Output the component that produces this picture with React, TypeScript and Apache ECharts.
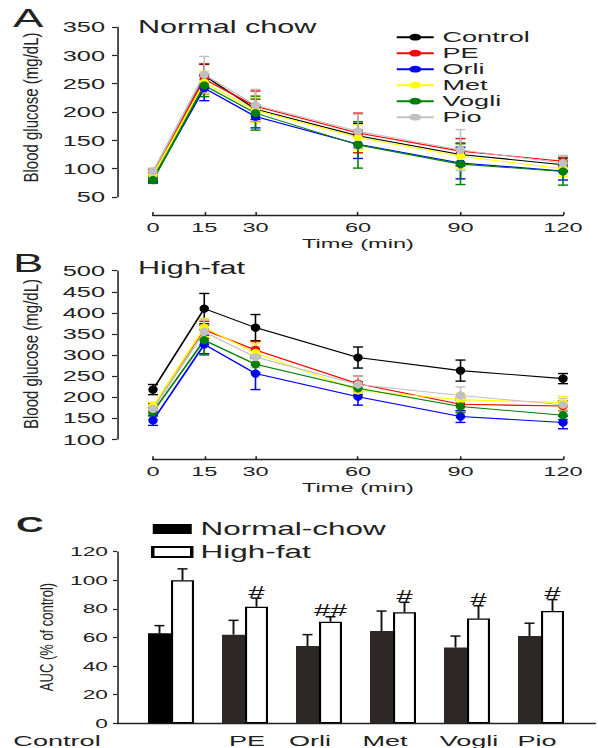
import React, { useEffect, useRef } from 'react';
import * as echarts from 'echarts';

// ---------- data ----------
const timePoints = [0, 15, 30, 60, 90, 120];
const groupNames = ['Control', 'PE', 'Orli', 'Met', 'Vogli', 'Pio'];
const groupColors = ['#000000', '#ff0000', '#0000ff', '#ffff00', '#008000', '#c0c0c0'];

// Normal chow OGTT (mg/dL), rows follow groupNames
const normalChowMean = [
  [86, 264, 205, 158, 125, 107],
  [93, 258, 210, 163, 131, 113],
  [82, 242, 192, 143, 110, 96],
  [88, 252, 203, 155, 122, 100],
  [80, 247, 198, 142, 108, 95],
  [95, 266, 212, 166, 133, 110],
];
const normalChowErr = [
  [8, 20, 18, 22, 20, 12],
  [6, 27, 27, 35, 22, 10],
  [6, 22, 20, 25, 28, 16],
  [6, 20, 22, 22, 22, 14],
  [6, 20, 30, 41, 36, 24],
  [6, 32, 28, 30, 36, 13],
];

// High-fat OGTT (mg/dL)
const highFatMean = [
  [218, 410, 365, 294, 263, 244],
  [175, 360, 312, 232, 183, 179],
  [145, 325, 256, 201, 154, 140],
  [178, 365, 305, 216, 194, 187],
  [165, 335, 278, 221, 178, 157],
  [172, 355, 295, 230, 204, 182],
];
const highFatErr = [
  [12, 36, 31, 25, 25, 12],
  [10, 20, 20, 18, 15, 12],
  [12, 22, 38, 20, 14, 15],
  [10, 22, 22, 15, 15, 15],
  [10, 35, 20, 15, 15, 10],
  [10, 30, 25, 20, 20, 15],
];

// AUC (% of control)
const aucCategories = ['Control', 'PE', 'Orli', 'Met', 'Vogli', 'Pio'];
const aucNormalChow = [63, 62, 54, 64.5, 53, 61];
const aucNormalChowErr = [5.3, 10, 8, 14, 8, 9];
const aucHighFat = [100, 81.5, 71, 77.6, 73.2, 78.5];
const aucHighFatErr = [8, 6, 3.5, 7, 9, 8];
const aucMarks = ['', '#', '##', '#', '#', '#'];

// ---------- layout helpers ----------
const CW = 342; // internal chart width, stretched horizontally to 598
const S = 598 / CW;
const X = (px: number) => px / S;
const FONT = '"Liberation Sans", Arial, Helvetica, sans-serif';
const INK = '#222222';
// horizontal shift (screen px) of AUC category labels
const aucLabelShift = [-114, 2, -9, -8, 2, -4];

const lineSeries = (grid: number, means: number[][]) =>
  groupNames.map((g, gi) => ({
    type: 'line',
    name: g,
    xAxisIndex: grid,
    yAxisIndex: grid,
    data: timePoints.map((t, i) => [t, means[gi][i]]),
    symbol: 'circle',
    symbolSize: [5.4, 8.3],
    lineStyle: { width: 1.1, color: groupColors[gi] },
    itemStyle: { color: groupColors[gi] },
    clip: false,
    z: 3,
  }));

const errSeries = (grid: number, means: number[][], errs: number[][], name: string) => {
  const rows: number[][] = [];
  groupNames.forEach((_, gi) =>
    timePoints.forEach((t, i) => rows.push([t, means[gi][i], errs[gi][i], gi]))
  );
  return {
    type: 'custom',
    name,
    xAxisIndex: grid,
    yAxisIndex: grid,
    data: rows,
    encode: { x: 0, y: 1 },
    clip: false,
    z: 2,
    renderItem: (_p: any, api: any) => {
      const x = api.value(0);
      const m = api.value(1);
      const e = api.value(2);
      const g = api.value(3);
      const p1 = api.coord([x, m + e]);
      const p2 = api.coord([x, m - e]);
      const c = groupColors[g];
      const hw = X(5);
      return {
        type: 'group',
        children: [
          { type: 'line', shape: { x1: p1[0], y1: p1[1], x2: p2[0], y2: p2[1] }, style: { stroke: c, lineWidth: 0.9 } },
          { type: 'line', shape: { x1: p1[0] - hw, y1: p1[1], x2: p1[0] + hw, y2: p1[1] }, style: { stroke: c, lineWidth: 1.4 } },
          { type: 'line', shape: { x1: p2[0] - hw, y1: p2[1], x2: p2[0] + hw, y2: p2[1] }, style: { stroke: c, lineWidth: 1.4 } },
        ],
      };
    },
  };
};

const timeXAxis = (grid: number, offset: number) => ({
  gridIndex: grid,
  type: 'value',
  min: 0,
  max: 120,
  offset,
  axisLine: { show: true, onZero: false, lineStyle: { color: INK, width: 1.3 } },
  axisTick: { show: true, inside: true, length: 3, customValues: timePoints, lineStyle: { color: INK, width: 0.9 } },
  axisLabel: { customValues: timePoints, margin: 5, fontSize: 13.5, color: INK, fontFamily: FONT },
  splitLine: { show: false },
  name: 'Time (min)',
  nameLocation: 'middle',
  nameGap: 21,
  nameTextStyle: { fontSize: 13.5, color: INK, fontFamily: FONT },
});

const glucoseYAxis = (grid: number, min: number, max: number) => ({
  gridIndex: grid,
  type: 'value',
  min,
  max,
  interval: 50,
  offset: X(36),
  axisLine: { show: true, onZero: false, lineStyle: { color: INK, width: 0.9 } },
  axisTick: { show: true, length: X(5), lineStyle: { color: INK, width: 1.2 } },
  axisLabel: { margin: X(12), fontSize: 14.5, color: INK, fontFamily: FONT },
  splitLine: { show: false },
});

const aucRich: Record<string, any> = {};
aucCategories.forEach((_, i) => {
  const d = aucLabelShift[i];
  const pad = (2 * Math.abs(d)) / S;
  aucRich['c' + i] = {
    fontSize: 15.5,
    fontFamily: FONT,
    color: INK,
    padding: d < 0 ? [0, pad, 0, 0] : [0, 0, 0, pad],
  };
});

const BAR_W = X(23);

const aucErrRows: number[][] = [];
aucNormalChow.forEach((v, i) => aucErrRows.push([i, v, aucNormalChowErr[i], 0]));
aucHighFat.forEach((v, i) => aucErrRows.push([i, v, aucHighFatErr[i], 1]));

const option: any = {
  animation: false,
  backgroundColor: '#ffffff',
  textStyle: { fontFamily: FONT },
  grid: [
    { left: X(153), right: X(35), top: 27, height: 170, outerBoundsMode: 'none' },
    { left: X(153), right: X(35), top: 270.7, height: 168.6, outerBoundsMode: 'none' },
    { left: X(117), right: X(3), top: 551.7, height: 171.6, outerBoundsMode: 'none' },
  ],
  xAxis: [
    timeXAxis(0, 18),
    timeXAxis(1, 20),
    {
      gridIndex: 2,
      type: 'value',
      min: (117 - 171) / 74,
      max: (595 - 171) / 74,
      axisLine: { show: true, onZero: false, lineStyle: { color: INK, width: 1.3 } },
      axisTick: { show: false },
      axisLabel: {
        customValues: [0, 1, 2, 3, 4, 5],
        margin: 9,
        formatter: (v: number) => {
          const i = Math.round(v);
          return '{c' + i + '|' + aucCategories[i] + '}';
        },
        rich: aucRich,
      },
      splitLine: { show: false },
    },
  ],
  yAxis: [
    glucoseYAxis(0, 50, 350),
    glucoseYAxis(1, 100, 500),
    {
      gridIndex: 2,
      type: 'value',
      min: 0,
      max: 120,
      interval: 20,
      axisLine: { show: true, onZero: false, lineStyle: { color: INK, width: 0.9 } },
      axisTick: { show: true, length: X(4), lineStyle: { color: INK, width: 1.2 } },
      axisLabel: { margin: X(9), fontSize: 13, color: INK, fontFamily: FONT },
      splitLine: { show: false },
    },
  ],
  legend: [
    {
      data: groupNames,
      orient: 'vertical',
      left: X(395),
      top: 29.2,
      itemWidth: X(37),
      itemHeight: 8.5,
      itemGap: 0,
      padding: 0,
      selectedMode: false,
      textStyle: { fontSize: 15.5, lineHeight: 13.6, color: INK, fontFamily: FONT },
    },
    {
      data: ['Normal-chow', 'High-fat'],
      orient: 'vertical',
      left: X(151),
      top: 520,
      itemWidth: X(39),
      itemHeight: 10,
      itemGap: 5,
      padding: 0,
      icon: 'rect',
      selectedMode: false,
      textStyle: { fontSize: 18, lineHeight: 14, color: INK, fontFamily: FONT },
    },
  ],
  series: [
    errSeries(0, normalChowMean, normalChowErr, 'errNormal'),
    ...lineSeries(0, normalChowMean),
    errSeries(1, highFatMean, highFatErr, 'errHigh'),
    ...lineSeries(1, highFatMean),
    {
      type: 'bar',
      name: 'Normal-chow',
      xAxisIndex: 2,
      yAxisIndex: 2,
      barWidth: BAR_W,
      barGap: '0%',
      itemStyle: { color: '#000000' },
      data: aucNormalChow.map((v, i) => ({
        value: [i, v],
        itemStyle: { color: i === 0 ? '#000000' : '#2d2826' },
      })),
    },
    {
      type: 'bar',
      name: 'High-fat',
      xAxisIndex: 2,
      yAxisIndex: 2,
      barWidth: BAR_W,
      barGap: '0%',
      itemStyle: { color: '#ffffff', borderColor: '#000000', borderWidth: 1.2 },
      data: aucHighFat.map((v, i) => [i, v]),
    },
    {
      type: 'custom',
      name: 'aucErr',
      xAxisIndex: 2,
      yAxisIndex: 2,
      data: aucErrRows,
      encode: { x: 0, y: 1 },
      clip: false,
      z: 4,
      renderItem: (params: any, api: any) => {
        const i = api.value(0);
        const v = api.value(1);
        const e = api.value(2);
        const s = api.value(3);
        const base = api.coord([i, v]);
        const top = api.coord([i, v + e]);
        const cx = base[0] + (s === 0 ? -BAR_W / 2 : BAR_W / 2);
        const hw = X(5);
        const children: any[] = [
          { type: 'line', shape: { x1: cx, y1: base[1], x2: cx, y2: top[1] }, style: { stroke: '#111', lineWidth: 1.1 } },
          { type: 'line', shape: { x1: cx - hw, y1: top[1], x2: cx + hw, y2: top[1] }, style: { stroke: '#111', lineWidth: 1.5 } },
        ];
        const mark = s === 1 ? aucMarks[i] : '';
        if (mark) {
          children.push({
            type: 'text',
            x: cx,
            y: top[1] + 2,
            style: { text: mark, fontSize: 17, fontFamily: FONT, fill: '#111', align: 'center', verticalAlign: 'bottom' },
          });
        }
        return { type: 'group', children };
      },
    },
  ],
  graphic: [
    { type: 'text', x: X(13), y: 17.5, style: { text: 'A', fontSize: 26, fontFamily: FONT, fill: INK, align: 'left', verticalAlign: 'middle' } },
    { type: 'text', x: X(138), y: 27, style: { text: 'Normal chow', fontSize: 17.5, fontFamily: FONT, fill: INK, align: 'left', verticalAlign: 'middle' } },
    { type: 'text', x: X(13), y: 262.5, style: { text: 'B', fontSize: 26, fontFamily: FONT, fill: INK, align: 'left', verticalAlign: 'middle' } },
    { type: 'text', x: X(138), y: 268, style: { text: 'High-fat', fontSize: 17.5, fontFamily: FONT, fill: INK, align: 'left', verticalAlign: 'middle' } },
    { type: 'text', x: X(16), y: 525, style: { text: 'C', fontSize: 22, fontWeight: 'bold', fontFamily: FONT, fill: INK, align: 'left', verticalAlign: 'middle' } },
    {
      type: 'text', x: X(31.5), y: 107.5, rotation: Math.PI / 2, scaleY: 1.35 / S,
      style: { text: 'Blood glucose (mg/dL)', fontSize: 15, fontFamily: FONT, fill: INK, align: 'center', verticalAlign: 'middle' },
    },
    {
      type: 'text', x: X(31.5), y: 354, rotation: Math.PI / 2, scaleY: 1.35 / S,
      style: { text: 'Blood glucose (mg/dL)', fontSize: 15, fontFamily: FONT, fill: INK, align: 'center', verticalAlign: 'middle' },
    },
    {
      type: 'text', x: X(46), y: 637, rotation: Math.PI / 2, scaleY: 1.45 / S,
      style: { text: 'AUC (% of control)', fontSize: 13, fontFamily: FONT, fill: INK, align: 'center', verticalAlign: 'middle' },
    },
  ],
};

export default function App() {
  const ref = useRef<HTMLDivElement>(null);
  useEffect(() => {
    if (!ref.current) return;
    const chart = echarts.init(ref.current, null, { renderer: 'svg', width: CW, height: 748 });
    chart.setOption(option);
    return () => chart.dispose();
  }, []);
  return (
    <div style={{ position: 'absolute', left: 0, top: 0, width: 598, height: 748, overflow: 'hidden', background: '#fff' }}>
      <div
        ref={ref}
        style={{ width: CW, height: 748, transform: `scaleX(${S})`, transformOrigin: '0 0' }}
      />
    </div>
  );
}
